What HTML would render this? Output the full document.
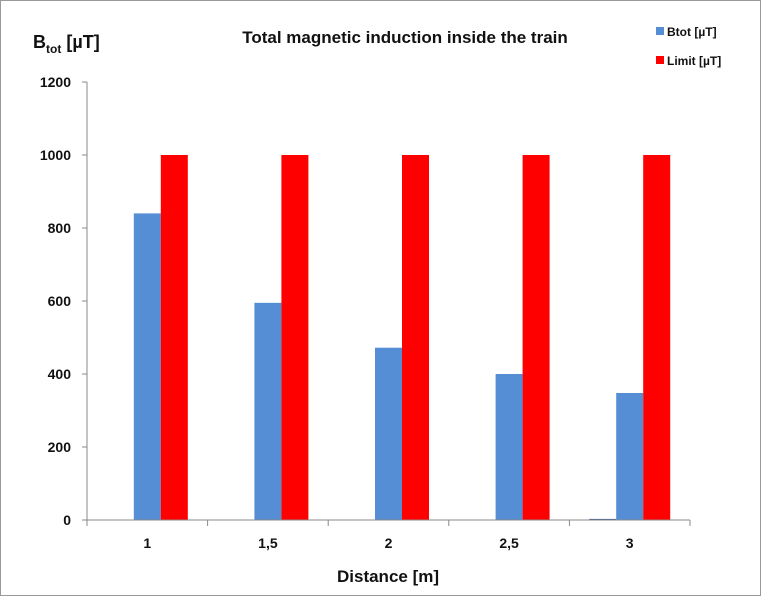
<!DOCTYPE html>
<html><head><meta charset="utf-8"><style>
body{margin:0;background:#fff;}
svg{display:block;font-family:"Liberation Sans",Arial,sans-serif;}
</style></head><body>
<svg id="chart" width="762" height="597">
<rect x="0.5" y="0.5" width="760" height="595" fill="#fff" stroke="#999"/>
<text x="405" y="43" text-anchor="middle" font-size="17" font-weight="bold" fill="#111">Total magnetic induction inside the train</text>
<text x="33" y="48" font-size="18" font-weight="bold" fill="#111">B<tspan font-size="12" dy="5">tot</tspan><tspan dy="-5"> [µT]</tspan></text>
<text x="388" y="582" text-anchor="middle" font-size="17" font-weight="bold" fill="#111">Distance [m]</text>
<g>
<rect x="656" y="27" width="8" height="8" fill="#558ed5"/>
<text x="667" y="36" font-size="12" font-weight="bold" fill="#111">Btot [µT]</text>
<rect x="656" y="56" width="8" height="8" fill="#ff0000"/>
<text x="667" y="65" font-size="12" font-weight="bold" fill="#111">Limit [µT]</text>
</g>
<g id="plot"></g>
</svg>
<script>
const categories=["1","1,5","2","2,5","3"];
const hiddenValues=[0,0,0,0,3];
const btotValues=[840,595,472,400,348];
const limitValues=[1000,1000,1000,1000,1000];
const yTicks=[0,200,400,600,800,1000,1200];
const NS="http://www.w3.org/2000/svg";
const g=document.getElementById('plot');
const x0=87,x1=690,yBase=520,yTop=82,yMax=1200;
const y=v=>yBase-(v/yMax)*(yBase-yTop);
const cw=(x1-x0)/categories.length;
const bw=27;
function mk(t,a){const e=document.createElementNS(NS,t);for(const k in a)e.setAttribute(k,a[k]);g.appendChild(e);return e;}
yTicks.forEach(t=>{
 const l=mk('line',{x1:x0-5,x2:x0,y1:y(t),y2:y(t),stroke:'#888'});
 
 
 const tx=mk('text',{x:x0-16,y:y(t)+5,'text-anchor':'end','font-size':14,'font-weight':'bold',fill:'#111'});
 tx.textContent=t;
 
 
});
const ya=mk('line',{x1:x0,x2:x0,y1:yTop,y2:yBase,stroke:'#888'});


const series=[[hiddenValues,'#3f5f8f','bar-hidden'],[btotValues,'#558ed5','bar-btot'],[limitValues,'#ff0000','bar-limit']];
categories.forEach((c,i)=>{
 const cx=x0+cw*(i+0.5);
 series.forEach((s,j)=>{
  const v=s[0][i];
  const r=mk('rect',{x:cx-1.5*bw+j*bw,y:y(v),width:bw,height:yBase-y(v),fill:s[1]});
  
  
 });
 const tx=mk('text',{x:cx,y:yBase+28,'text-anchor':'middle','font-size':14,'font-weight':'bold',fill:'#111'});
 tx.textContent=c;
 
 
});
for(let i=0;i<=categories.length;i++){
 const t=mk('line',{x1:x0+cw*i,x2:x0+cw*i,y1:yBase,y2:yBase+6,stroke:'#888'});
 
 
}
const xa=mk('line',{x1:x0,x2:x1,y1:yBase,y2:yBase,stroke:'#888'});


</script>
</body></html>
